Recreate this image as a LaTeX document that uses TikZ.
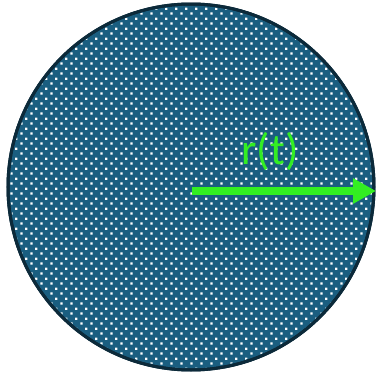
\documentclass[tikz,border=0pt]{standalone}
\usepackage{fontspec}
\setsansfont{Carlito}
\usetikzlibrary{arrows.meta, patterns.meta}
\definecolor{sea}{HTML}{1A5E80}
\definecolor{rim}{HTML}{0C2A3A}
\definecolor{vec}{HTML}{33EE22}
\tikzdeclarepattern{name=grain, type=uncolored,
  bounding box={(0pt,0pt) and (10pt,10pt)},
  tile size={(10pt,10pt)},
  code={\fill (0.5pt,0.5pt) rectangle (3pt,3pt);
        \fill (5.5pt,5.5pt) rectangle (8pt,8pt);}}

\begin{document}
\begin{tikzpicture}[x=1pt, y=-1pt, >=Stealth,
      disc/.style={draw=rim, line width=3pt, fill=sea},
      lbl/.style={text=vec, font=\sffamily\fontsize{44}{48}\selectfont, inner sep=0pt},
      vecline/.style={draw=vec, line width=7.5pt, -{Triangle[length=23pt, width=24pt]}}]
    \useasboundingbox (0,0) rectangle (376,375);
    \coordinate (ctr) at (191,187);
    \coordinate (edge) at (376,191);
    \coordinate (base) at (192,191);
    \path[disc] (ctr) circle[radius=183];
    \fill[pattern=grain, pattern color=white] (ctr) circle[radius=181];
    \draw[rim, line width=3pt] (ctr) circle[radius=183];
    \draw[vecline] (base) -- (edge);
    \node[lbl] (rt) at (270,151) {r(t)};
  \end{tikzpicture}
\end{document}
